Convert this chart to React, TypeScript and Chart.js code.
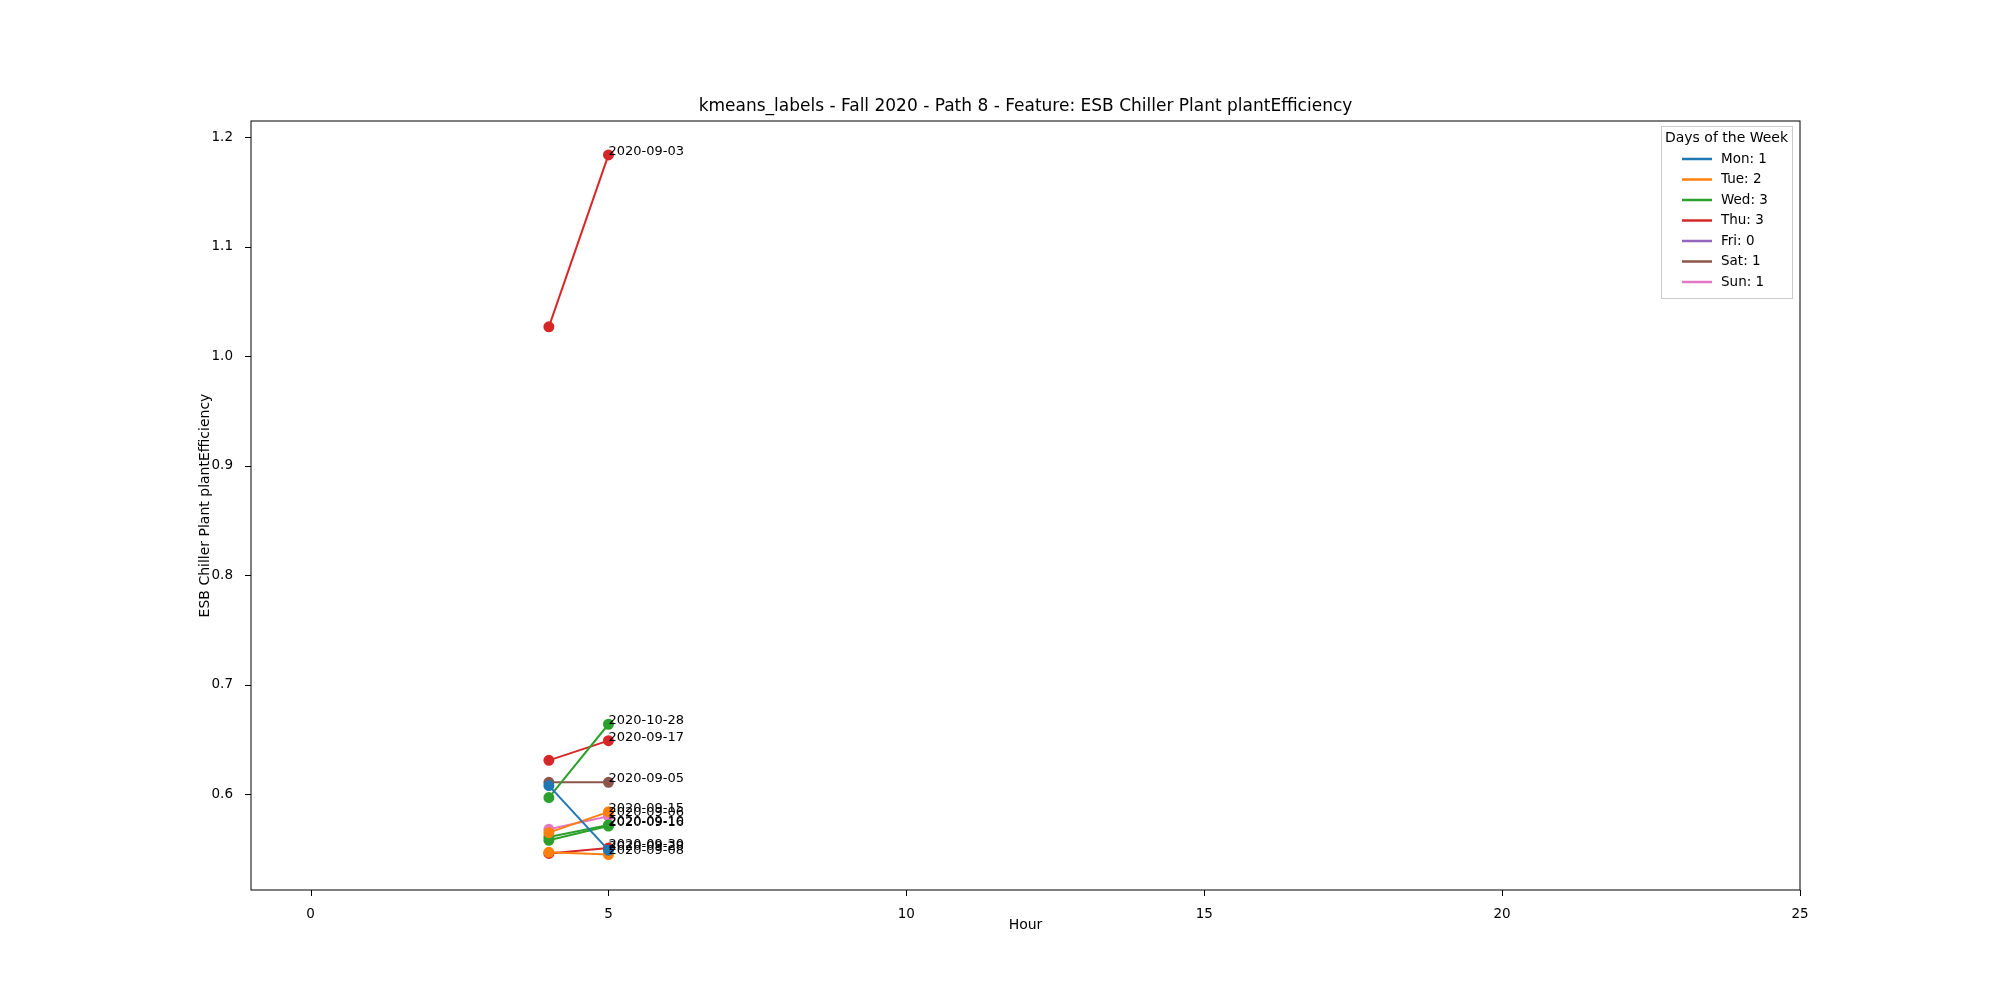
import React, { useEffect, useRef } from "react";
import { Chart, registerables } from "chart.js";

Chart.register(...registerables);

const hours = [4, 5];
const dayNames = ["Mon", "Tue", "Wed", "Thu", "Fri", "Sat", "Sun"];
const dayCounts = [1, 2, 3, 3, 0, 1, 1];
const dayColors = ["#1f77b4", "#ff7f0e", "#2ca02c", "#d62728", "#9467bd", "#8c564b", "#e377c2"];

// each path: day index, date label, values at hours 4 and 5
const pathDays = [0, 1, 1, 2, 2, 2, 3, 3, 3, 5, 6];
const pathDates = ["2020-09-28", "2020-09-15", "2020-09-08", "2020-10-28", "2020-09-16", "2020-09-10", "2020-09-03", "2020-09-17", "2020-09-30", "2020-09-05", "2020-09-06"];
const pathValues = [
  [0.608, 0.549],
  [0.565, 0.584],
  [0.547, 0.545],
  [0.597, 0.664],
  [0.558, 0.571],
  [0.561, 0.572],
  [1.027, 1.184],
  [0.631, 0.649],
  [0.546, 0.551],
  [0.611, 0.611],
  [0.568, 0.580],
];
const xTicks = [0, 5, 10, 15, 20, 25];
const yTicks = [0.6, 0.7, 0.8, 0.9, 1.0, 1.1, 1.2];

const FONT = "'DejaVu Sans', sans-serif";

const extras = {
  id: "extras",
  afterDraw(chart: any) {
    const { ctx, chartArea: a, scales } = chart;
    ctx.save();
    ctx.strokeStyle = "#000";
    ctx.lineWidth = 1;
    ctx.strokeRect(a.left, a.top, a.right - a.left, a.bottom - a.top);
    // tick marks
    ctx.beginPath();
    xTicks.forEach((t) => {
      const x = Math.round(scales.x.getPixelForValue(t)) + 0.5;
      ctx.moveTo(x, a.bottom);
      ctx.lineTo(x, a.bottom + 6);
    });
    yTicks.forEach((t) => {
      const y = Math.round(scales.y.getPixelForValue(t)) + 0.5;
      ctx.moveTo(a.left, y);
      ctx.lineTo(a.left - 6, y);
    });
    ctx.stroke();
    // annotations
    ctx.fillStyle = "#000";
    ctx.font = `13px ${FONT}`;
    ctx.textBaseline = "bottom";
    ctx.textAlign = "left";
    pathValues.forEach((v, i) => {
      ctx.fillText(pathDates[i], scales.x.getPixelForValue(5), scales.y.getPixelForValue(v[1]) + 3);
    });
    // axis titles
    ctx.font = `14px ${FONT}`;
    ctx.textAlign = "center";
    ctx.textBaseline = "middle";
    ctx.fillText("Hour", (a.left + a.right) / 2, 925);
    ctx.save();
    ctx.translate(205, (a.top + a.bottom) / 2);
    ctx.rotate(-Math.PI / 2);
    ctx.fillText("ESB Chiller Plant plantEfficiency", 0, 0);
    ctx.restore();
    // title
    ctx.font = `17px ${FONT}`;
    ctx.textBaseline = "bottom";
    ctx.fillText("kmeans_labels - Fall 2020 - Path 8 - Feature: ESB Chiller Plant plantEfficiency", (a.left + a.right) / 2, a.top - 6);
    // legend
    const bx = 1661, by = 126, bw = 131, bh = 172;
    ctx.fillStyle = "rgba(255,255,255,0.8)";
    ctx.fillRect(bx, by, bw, bh);
    ctx.strokeStyle = "#ccc";
    ctx.strokeRect(bx + 0.5, by + 0.5, bw, bh);
    ctx.fillStyle = "#000";
    ctx.font = `14px ${FONT}`;
    ctx.textBaseline = "middle";
    ctx.fillText("Days of the Week", bx + bw / 2, by + 12);
    ctx.textAlign = "left";
    ctx.font = `13.5px ${FONT}`;
    dayNames.forEach((d, i) => {
      const y = by + 33 + i * 20.5;
      ctx.strokeStyle = dayColors[i];
      ctx.lineWidth = 2.5;
      ctx.beginPath();
      ctx.moveTo(bx + 21, y);
      ctx.lineTo(bx + 51, y);
      ctx.stroke();
      ctx.fillText(`${d}: ${dayCounts[i]}`, bx + 60, y);
    });
    ctx.restore();
  },
};

export default function App() {
  const ref = useRef<HTMLCanvasElement | null>(null);
  useEffect(() => {
    document.body.style.margin = "0";
    if (!ref.current) return;
    const chart = new Chart(ref.current, {
      type: "line",
      data: {
        datasets: pathValues.map((v, i) => ({
          label: pathDates[i],
          data: hours.map((h, j) => ({ x: h, y: v[j] })),
          borderColor: dayColors[pathDays[i]],
          backgroundColor: dayColors[pathDays[i]],
          borderWidth: 2,
          pointRadius: 4.5,
          pointHoverRadius: 4.5,
        })),
      },
      options: {
        animation: false,
        responsive: false,
        layout: { padding: { top: 121, right: 200, left: 0, bottom: 0 } },
        plugins: { legend: { display: false }, tooltip: { enabled: false } },
        scales: {
          x: {
            type: "linear",
            min: -1,
            max: 25,
            afterBuildTicks: (s: any) => { s.ticks = xTicks.map((v) => ({ value: v })); },
            afterFit: (s: any) => { s.height = 110; },
            grid: { display: false },
            border: { display: false },
            ticks: { color: "#000", font: { family: FONT, size: 13.5 }, padding: 8 },
          },
          y: {
            min: 0.5126,
            max: 1.215,
            afterBuildTicks: (s: any) => { s.ticks = yTicks.map((v) => ({ value: v })); },
            afterFit: (s: any) => { s.width = 251; },
            grid: { display: false },
            border: { display: false },
            ticks: { color: "#000", font: { family: FONT, size: 13.5 }, padding: 10, callback: (v: any) => Number(v).toFixed(1) },
          },
        },
      },
      plugins: [extras],
    });
    return () => chart.destroy();
  }, []);
  return <canvas ref={ref} width={2000} height={1000} />;
}
